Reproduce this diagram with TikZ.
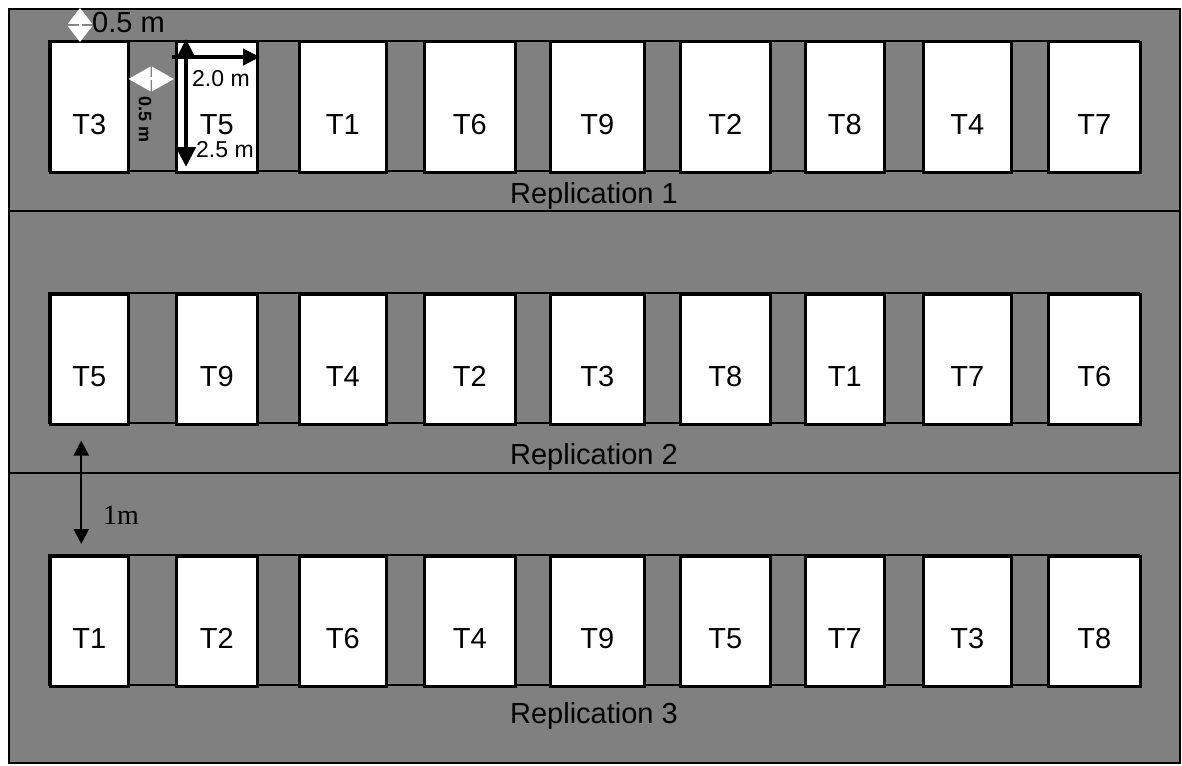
\documentclass[tikz,border=0pt]{standalone}
\usepackage{fontspec}
\setmainfont{Liberation Sans}
\newfontfamily\timesfont{Liberation Serif}
\usetikzlibrary{arrows.meta,calc}
\definecolor{field}{HTML}{808080}
\begin{document}
\begin{tikzpicture}[x=1pt,y=-1pt,
  plotbox/.style={draw=black,line width=2.5pt,fill=white,rectangle,inner sep=0pt,
    minimum height=130pt,anchor=north west},
  strip/.style={draw=black,line width=2.5pt,fill=field},
  lbl/.style={font=\fontsize{29}{32}\selectfont,anchor=base,inner sep=0pt},
  reptext/.style={font=\fontsize{29}{32}\selectfont,anchor=base,inner sep=0pt,text=black},
  dimtext/.style={font=\fontsize{23}{26}\selectfont,anchor=base west,inner sep=0pt},
  whitearrow/.style={draw=white,line width=3pt,
    {Triangle[width=24pt,length=#1]}-{Triangle[width=24pt,length=#1]}},
  blackdim/.style={draw=black,line width=4.5pt},
  thinline/.style={draw=black,line width=1.5pt}]
\useasboundingbox (0,0) rectangle (1182,765);
% field
\fill[field] (9,9) rectangle (1180,763);
\draw[thinline] (9,9) rectangle (1180,763);
\draw[thinline] (9,211) -- (1180,211);
\draw[thinline] (9,473) -- (1180,473);
% row strips
\draw[strip] (49,41) rectangle (1139,171);
\draw[strip] (49,293) rectangle (1139,423);
\draw[strip] (49,555) rectangle (1139,685);
% replication 1
\foreach \l/\r/\t [count=\i] in {49/127/T3,175/256/T5,298/385/T1,423/514/T6,549/643/T9,679/769/T2,804/883/T8,922/1010/T4,1047/1139/T7}{
  \node[plotbox,minimum width=\r-\l] (r1c\i) at (\l,41) {};
  \node[lbl] (r1t\i) at ($(r1c\i.north)+(0,93)$) {\t};
}
% replication 2
\foreach \l/\r/\t [count=\i] in {49/127/T5,175/256/T9,298/385/T4,423/514/T2,549/643/T3,679/769/T8,804/883/T1,922/1010/T7,1047/1139/T6}{
  \node[plotbox,minimum width=\r-\l] (r2c\i) at (\l,293) {};
  \node[lbl] (r2t\i) at ($(r2c\i.north)+(0,93)$) {\t};
}
% replication 3
\foreach \l/\r/\t [count=\i] in {49/127/T1,175/256/T2,298/385/T6,423/514/T4,549/643/T9,679/769/T5,804/883/T7,922/1010/T3,1047/1139/T8}{
  \node[plotbox,minimum width=\r-\l] (r3c\i) at (\l,555) {};
  \node[lbl] (r3t\i) at ($(r3c\i.north)+(0,93)$) {\t};
}
\node[reptext] (rep1) at (594,203) {Replication 1};
\node[reptext] (rep2) at (594,464) {Replication 2};
\node[reptext] (rep3) at (594,723) {Replication 3};
% dimension annotations
\coordinate (ta) at (80,8);
\coordinate (tb) at (80,42);
\draw[whitearrow=16pt] (ta) -- (tb);
\node[font=\fontsize{29}{32}\selectfont,anchor=base west,inner sep=0pt] (d05a) at (92,33) {0.5 m};
\coordinate (ga) at ($(r1c1.north east)+(-1,38)$);
\coordinate (gb) at ($(r1c2.north west)+(-1,38)$);
\draw[whitearrow=22pt] (ga) -- (gb);
\node[font=\bfseries\fontsize{18}{20}\selectfont,rotate=-90,inner sep=0pt] (d05b) at (145,120) {0.5 m};
\coordinate (va) at (186,39);
\coordinate (vb) at (186,167);
\draw[blackdim,{Triangle[width=19pt,length=20pt]}-{Triangle[width=19pt,length=20pt]}] (va) -- (vb);
\coordinate (ha) at (172,57);
\coordinate (hb) at (260,57);
\draw[blackdim,-{Triangle[width=16pt,length=17pt]}] (ha) -- (hb);
\node[dimtext] (d20) at (192,87) {2.0 m};
\node[dimtext] (d25) at (196,157) {2.5 m};
% 1 m arrow
\coordinate (ma) at ($(r2c1.south)+(-8,15)$);
\coordinate (mb) at ($(r3c1.north)+(-8,-11)$);
\draw[black,line width=2pt,{Triangle[width=15pt,length=15pt]}-{Triangle[width=15pt,length=15pt]}] (ma) -- (mb);
\node[font=\timesfont\fontsize{28}{30}\selectfont,anchor=base west,inner sep=0pt] (d1m) at (103,524) {1m};
\end{tikzpicture}
\end{document}
